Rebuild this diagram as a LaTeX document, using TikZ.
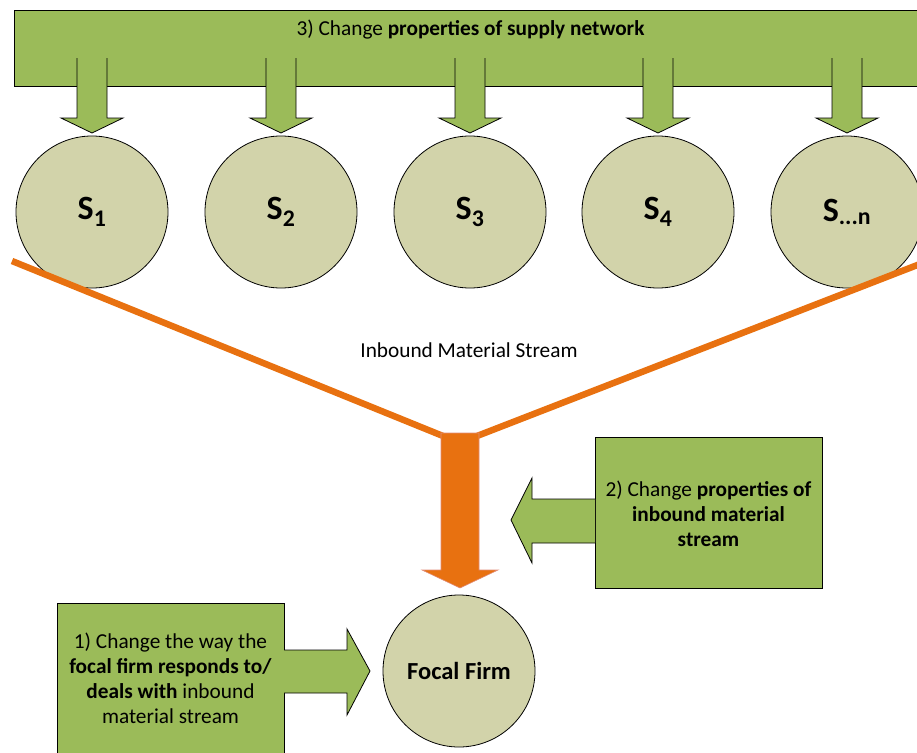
\documentclass[tikz,border=0pt]{standalone}
\usepackage{fontspec}
\setmainfont{Carlito}
\definecolor{grn}{HTML}{9BBB59}
\definecolor{circ}{RGB}{210,211,170}
\definecolor{org}{RGB}{232,113,16}
\definecolor{orgedge}{RGB}{225,140,120}
\begin{document}
\begin{tikzpicture}[x=1pt,y=-1pt,
  txt/.style={font=\fontsize{21.3}{25}\selectfont, align=center, inner sep=0pt},
  supcirc/.style={circle, draw=black, line width=0.8pt, fill=circ, minimum size=152pt, inner sep=0pt,
    font=\fontsize{34}{40}\selectfont\bfseries},
  blk/.style={draw=black, line width=0.8pt, fill=grn},
  blkline/.style={draw=black, line width=0.8pt, line join=miter},
  orgline/.style={draw=org, line width=6.5pt},
]
\useasboundingbox (0,0) rectangle (917,752);
\clip (0,0) rectangle (917,752);

% top bar
\node[blk, minimum width=930pt, minimum height=76pt, anchor=north west, inner sep=0pt] (bar) at (14,10) {};
\node[txt] (bartxt) at (470.5,30) {3) Change \textbf{properties of supply network}};

% down arrows
\foreach \cx in {92,281,470,658,847}{
  \fill[grn] (\cx-15,58) -- (\cx+15,58) -- (\cx+15,118) -- (\cx+31,118) -- (\cx,133) -- (\cx-31,118) -- (\cx-15,118) -- cycle;
  \draw[blkline] (\cx-15,58) -- (\cx-15,118) -- (\cx-31,118) -- (\cx,133) -- (\cx+31,118) -- (\cx+15,118) -- (\cx+15,58);
}

% suppliers
\node[supcirc] (s1) at (92,212) {S\textsubscript{1}};
\node[supcirc] (s2) at (281,212) {S\textsubscript{2}};
\node[supcirc] (s3) at (470,212) {S\textsubscript{3}};
\node[supcirc] (s4) at (658,212) {S\textsubscript{4}};
\node[supcirc] (s5) at (847,212) {S\textsubscript{...n}};

% inbound stream
\coordinate (lstart) at (12,261);
\coordinate (rstart) at (920,264);
\coordinate (ljoin) at (443,436);
\coordinate (rjoin) at (477,436);
\draw[orgline] (lstart) -- (ljoin);
\draw[orgline] (rstart) -- (rjoin);
\node[txt] (stream) at (469,350) {Inbound Material Stream};

\filldraw[fill=org, draw=orgedge, line width=0.6pt, line join=miter]
  (441,433) -- (479,433) -- (479,570) -- (498,570) -- (460,588) -- (422,570) -- (441,570) -- cycle;

% focal firm
\node[supcirc, font=\fontsize{24.5}{28}\selectfont\bfseries] (ff) at (459,671) {Focal Firm};

% right box
\node[blk, minimum width=227pt, minimum height=151pt, inner sep=0pt] (box2) at (708.5,512.5) {};
\node[txt] (box2txt) at (708.5,514) {2) Change \textbf{properties of}\\ \textbf{inbound material}\\ \textbf{stream}};
\filldraw[fill=grn, draw=black, line width=0.8pt, line join=miter]
  (595,499) -- (532,499) -- (532,478) -- (511,520) -- (532,563) -- (532,543) -- (595,543);

% left box
\node[blk, minimum width=227pt, minimum height=160pt, inner sep=0pt, anchor=north west] (box1) at (57,603) {};
\node[txt] (box1txt) at (170.5,678) {1) Change the way the\\ \textbf{focal firm responds to/}\\ \textbf{deals with} inbound\\ material stream};
\filldraw[fill=grn, draw=black, line width=0.8pt, line join=miter]
  (284,650) -- (347,650) -- (347,629) -- (370,671) -- (347,715) -- (347,693) -- (284,693);
\end{tikzpicture}
\end{document}
